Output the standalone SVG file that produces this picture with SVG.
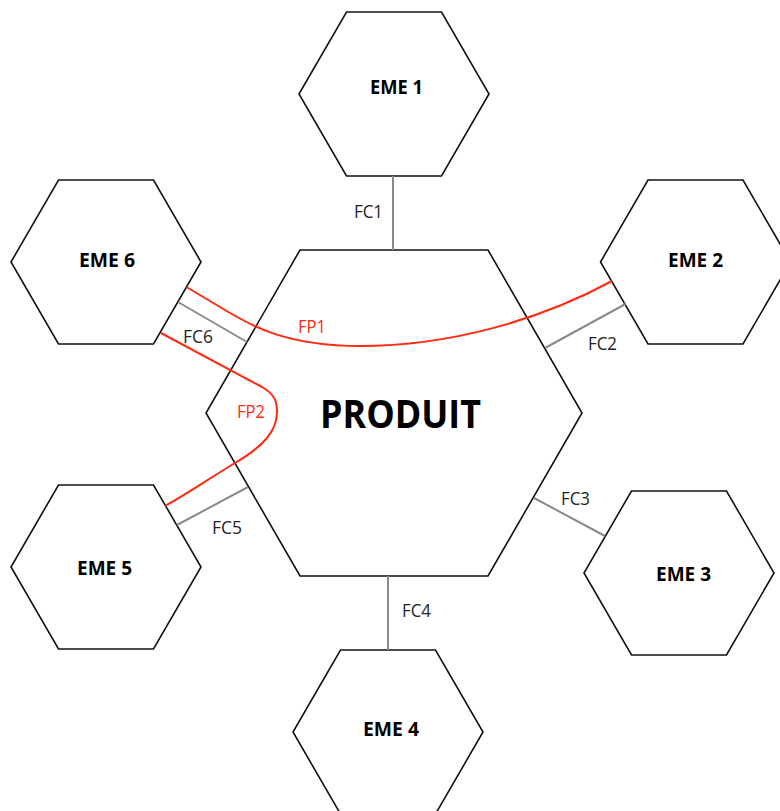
<svg xmlns="http://www.w3.org/2000/svg" width="780" height="811" viewBox="0 0 780 811">
<style>
.hex{fill:#fff;stroke:#111;stroke-width:1.6;stroke-linejoin:miter}
.fc{stroke:#8a8a8a;stroke-width:2;fill:none}
.fp{stroke:#ff2a10;stroke-width:2;fill:none}
.lbl{font-family:"Open Sans","Liberation Sans",sans-serif;font-size:19px;fill:#222}
.red{fill:#ff2a10}
.eme{font-family:"Open Sans","Liberation Sans",sans-serif;font-size:20px;font-weight:bold;fill:#000;text-anchor:middle}
.prod{font-family:"Open Sans","Liberation Sans",sans-serif;font-size:40px;font-weight:bold;fill:#000;text-anchor:middle}
</style>
<rect width="780" height="811" fill="#fff"/>
<g id="produit">
<polygon class="hex" points="300,250 488,250 582,413 488,576 300,576 206,413"/>
<text class="prod" x="400.5" y="428" textLength="161" lengthAdjust="spacingAndGlyphs">PRODUIT</text>
</g>
<g id="eme1">
<polygon class="hex" points="346.5,12 441.5,12 489,94 441.5,176 346.5,176 299,94"/>
<text class="eme" x="396.5" y="94" textLength="53" lengthAdjust="spacingAndGlyphs">EME 1</text>
</g>
<g id="eme2">
<polygon class="hex" points="648,180 743,180 790.5,262 743,344 648,344 600.5,262"/>
<text class="eme" x="695.5" y="267" textLength="55" lengthAdjust="spacingAndGlyphs">EME 2</text>
</g>
<g id="eme3">
<polygon class="hex" points="631.5,491 726.5,491 774,573 726.5,655 631.5,655 584,573"/>
<text class="eme" x="683.5" y="581" textLength="55" lengthAdjust="spacingAndGlyphs">EME 3</text>
</g>
<g id="eme4">
<polygon class="hex" points="340.5,650 435.5,650 483,732 435.5,814 340.5,814 293,732"/>
<text class="eme" x="391" y="736" textLength="56" lengthAdjust="spacingAndGlyphs">EME 4</text>
</g>
<g id="eme5">
<polygon class="hex" points="58.5,485 153.5,485 201,567 153.5,649 58.5,649 11,567"/>
<text class="eme" x="104.5" y="575" textLength="55" lengthAdjust="spacingAndGlyphs">EME 5</text>
</g>
<g id="eme6">
<polygon class="hex" points="58.5,180 153.5,180 201,262 153.5,344 58.5,344 11,262"/>
<text class="eme" x="107" y="267" textLength="56" lengthAdjust="spacingAndGlyphs">EME 6</text>
</g>
<g id="connectors">
<line class="fc" x1="393" y1="176" x2="393" y2="250"/>
<line class="fc" x1="625.5" y1="304" x2="545" y2="348"/>
<line class="fc" x1="534" y1="498" x2="605" y2="536"/>
<line class="fc" x1="388" y1="576" x2="388" y2="650"/>
<line class="fc" x1="177" y1="525" x2="248" y2="487"/>
<line class="fc" x1="178" y1="302" x2="247" y2="342"/>
<path class="fp" d="M186.5,287 L225,310 C250,325 285,346 360,346 C450,346 540,320 612,281"/>
<path class="fp" d="M161,333 L262,387 C276,395 277,403 277,412 C277,432 262,447 235,463 C210,478 190,492 165,506"/>
<text class="lbl" x="354" y="218" textLength="29" lengthAdjust="spacingAndGlyphs">FC1</text>
<text class="lbl" x="588" y="350" textLength="29" lengthAdjust="spacingAndGlyphs">FC2</text>
<text class="lbl" x="561" y="505" textLength="29" lengthAdjust="spacingAndGlyphs">FC3</text>
<text class="lbl" x="402" y="617" textLength="29" lengthAdjust="spacingAndGlyphs">FC4</text>
<text class="lbl" x="212" y="534" textLength="30" lengthAdjust="spacingAndGlyphs">FC5</text>
<text class="lbl" x="183" y="343" textLength="30" lengthAdjust="spacingAndGlyphs">FC6</text>
<text class="lbl red" x="298" y="333" textLength="28" lengthAdjust="spacingAndGlyphs">FP1</text>
<text class="lbl red" x="237" y="418" textLength="28" lengthAdjust="spacingAndGlyphs">FP2</text>
</g>
</svg>
